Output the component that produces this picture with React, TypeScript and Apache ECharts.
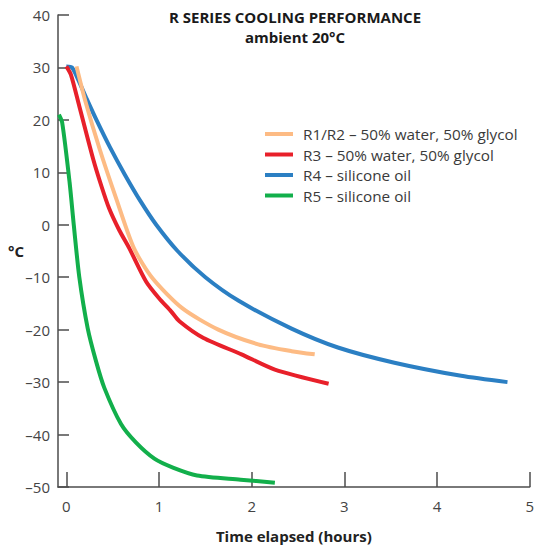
import React, { useEffect, useRef } from "react";
import * as echarts from "echarts";

const titleLines = ["R SERIES COOLING PERFORMANCE", "ambient 20°C"];
const xTicks = [0, 1, 2, 3, 4, 5];
const seriesNames = [
  "R1/R2 – 50% water, 50% glycol",
  "R3 – 50% water, 50% glycol",
  "R4 – silicone oil",
  "R5 – silicone oil",
];
const seriesColors = ["#FDBB84", "#E8202A", "#2B7FC3", "#12AF4B"];

const r12Time = [0.11, 0.2, 0.36, 0.54, 0.73, 0.93, 1.25, 1.64, 2.07, 2.43, 2.68];
const r12Temp = [30.2, 23.9, 14.4, 4.9, -4.5, -10.2, -15.9, -20.0, -22.8, -24.1, -24.7];

const r3Time = [0, 0.05, 0.14, 0.29, 0.38, 0.46, 0.57, 0.68, 0.86, 1.0, 1.13, 1.22, 1.48, 1.89, 2.25, 2.83];
const r3Temp = [30.2, 28.6, 22.6, 12.5, 7.3, 3.2, -1.0, -4.5, -10.8, -14.0, -16.5, -18.4, -21.6, -24.7, -27.6, -30.3];

const r4Time = [0, 0.06, 0.13, 0.22, 0.33, 0.47, 0.63, 0.8, 0.97, 1.2, 1.5, 1.86, 2.43, 2.93, 3.54, 4.26, 4.76];
const r4Temp = [30.2, 30.0, 27.6, 24.0, 19.8, 14.8, 9.6, 4.5, 0, -5.0, -10.0, -14.5, -19.8, -23.4, -26.3, -28.8, -30.0];

const r5Time = [-0.08, -0.045, 0.035, 0.08, 0.14, 0.23, 0.32, 0.41, 0.59, 0.75, 0.95, 1.15, 1.41, 1.88, 2.25];
const r5Temp = [21.0, 19.5, 8.1, 0, -10, -19.7, -26, -31.1, -38, -41.5, -44.6, -46.3, -47.8, -48.6, -49.2];

const allTimes = [r12Time, r3Time, r4Time, r5Time];
const allTemps = [r12Temp, r3Temp, r4Temp, r5Temp];

const FONT = "'Open Sans', 'Noto Sans', sans-serif";

export default function App() {
  const ref = useRef<HTMLDivElement>(null);
  useEffect(() => {
    if (!ref.current) return;
    const chart = echarts.init(ref.current, undefined, { renderer: "svg" });
    const axisColor = "#4d4d4d";
    chart.setOption({
      animation: false,
      backgroundColor: "#ffffff",
      title: {
        text: titleLines.join("\n"),
        left: 295,
        top: 7,
        padding: 0,
        textAlign: "center",
        textStyle: {
          fontFamily: FONT,
          fontSize: 15,
          fontWeight: "bold",
          color: "#1a1a1a",
          lineHeight: 20,
        },
      },
      legend: {
        orient: "vertical",
        left: 265,
        top: 125.5,
        padding: 0,
        icon: "rect",
        itemWidth: 28,
        itemHeight: 4,
        itemGap: 3.5,
        data: seriesNames,
        textStyle: {
          fontFamily: FONT,
          fontSize: 15.3,
          color: "#3a3a3a",
          lineHeight: 17,
          padding: [0, 0, 0, 5],
        },
      },
      grid: { left: 58, right: 5, top: 15, bottom: 57, containLabel: false },
      xAxis: {
        type: "value",
        min: -0.09,
        max: 5,
        name: "Time elapsed (hours)",
        nameLocation: "middle",
        nameGap: 41,
        nameTextStyle: { fontFamily: FONT, fontSize: 15, fontWeight: "bold", color: "#222" },
        splitLine: { show: false },
        axisLine: { onZero: false, lineStyle: { color: axisColor, width: 1.5 } },
        axisTick: { inside: true, length: 15, customValues: xTicks, lineStyle: { color: axisColor, width: 1.5 } },
        axisLabel: {
          customValues: xTicks,
          fontFamily: FONT,
          fontSize: 15,
          color: "#444",
          margin: 11,
        },
      },
      yAxis: {
        type: "value",
        min: -50,
        max: 40,
        interval: 10,
        splitLine: { show: false },
        axisLine: { show: true, onZero: false, lineStyle: { color: axisColor, width: 1.5 } },
        axisTick: { show: true, inside: true, length: 11, lineStyle: { color: axisColor, width: 1.5 } },
        axisLabel: {
          fontFamily: FONT,
          fontSize: 15,
          color: "#444",
          margin: 8,
          formatter: (v: number) => String(v).replace("-", "–"),
        },
      },
      graphic: [
        {
          type: "text",
          left: 8,
          top: 243,
          style: { text: "°C", fontFamily: FONT, fontSize: 15, fontWeight: "bold", fill: "#222" },
        },
      ],
      series: seriesNames.map((name, i) => ({
        name,
        type: "line",
        data: allTimes[i].map((t, j) => [t, allTemps[i][j]]),
        showSymbol: false,
        symbol: "none",
        smooth: 0.25,
        color: seriesColors[i],
        lineStyle: { width: 4, color: seriesColors[i], cap: "butt", join: "round" },
        z: 10 - i,
      })),
    });
    return () => chart.dispose();
  }, []);
  return <div ref={ref} style={{ position: "fixed", left: 0, top: 0, width: 537, height: 548 }} />;
}
